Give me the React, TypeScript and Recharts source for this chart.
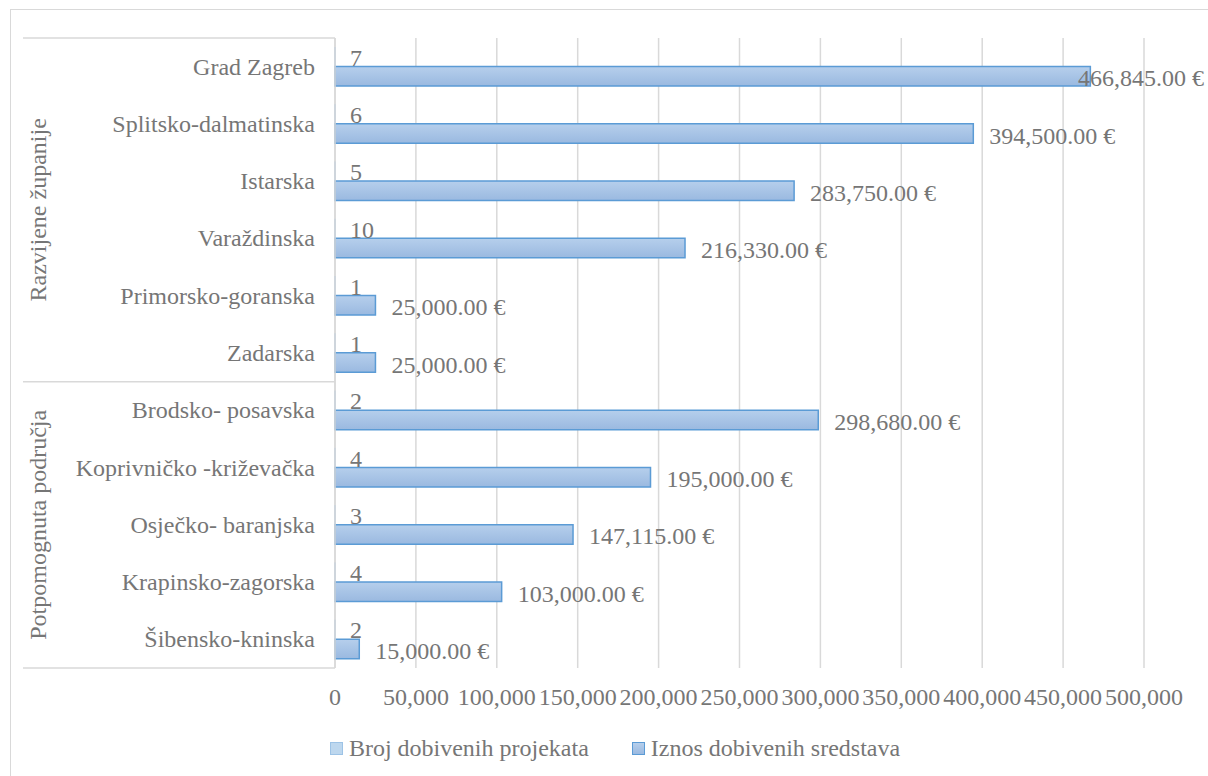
import React from 'react';
import { BarChart, Bar, XAxis, YAxis, CartesianGrid, LabelList, Legend } from 'recharts';

// ---------- data ----------
const categories = [
  'Grad Zagreb',
  'Splitsko-dalmatinska',
  'Istarska',
  'Varaždinska',
  'Primorsko-goranska',
  'Zadarska',
  'Brodsko- posavska',
  'Koprivničko -križevačka',
  'Osječko- baranjska',
  'Krapinsko-zagorska',
  'Šibensko-kninska',
];
const groups = [
  'Razvijene županije',
  'Razvijene županije',
  'Razvijene županije',
  'Razvijene županije',
  'Razvijene županije',
  'Razvijene županije',
  'Potpomognuta područja',
  'Potpomognuta područja',
  'Potpomognuta područja',
  'Potpomognuta područja',
  'Potpomognuta područja',
];
const projectCounts = [7, 6, 5, 10, 1, 1, 2, 4, 3, 4, 2];
const amounts = [466845, 394500, 283750, 216330, 25000, 25000, 298680, 195000, 147115, 103000, 15000];
const xTicks = [0, 50000, 100000, 150000, 200000, 250000, 300000, 350000, 400000, 450000, 500000];
const seriesNames = ['Broj dobivenih projekata', 'Iznos dobivenih sredstava'];

const data = categories.map((name, i) => ({
  name,
  group: groups[i],
  count: projectCounts[i],
  amount: amounts[i],
}));

// ---------- layout / style ----------
const W = 1208;
const H = 776;
const M = { top: 38, right: 64, bottom: 8, left: 23 };
const Y_AXIS_W = 312;
const X_AXIS_H = 60;
const LEGEND_H = 40;
const PLOT_H = H - M.top - M.bottom - X_AXIS_H - LEGEND_H;
const BAND = PLOT_H / categories.length;
const GROUP_X = 38;
const LABEL_LIMIT = 1204;

const FONT = "'Liberation Serif', 'Times New Roman', serif";
const TEXT = '#767676';
const GRID = '#d9d9d9';
const FS = 24;

let ctx: CanvasRenderingContext2D | null = null;
function textWidth(s: string, size: number) {
  if (!ctx && typeof document !== 'undefined') {
    ctx = document.createElement('canvas').getContext('2d');
  }
  if (!ctx) return s.length * size * 0.5;
  ctx.font = `${size}px "Liberation Serif"`;
  return ctx.measureText(s).width;
}

const fmtEuro = (v: number) =>
  v.toLocaleString('en-US', { minimumFractionDigits: 2, maximumFractionDigits: 2 }) + ' €';
const fmtTick = (v: number) => v.toLocaleString('en-US');

function CategoryTick(props: any) {
  const { x, y, payload, index } = props;
  const i = typeof index === 'number' ? index : payload.index;
  const g = groups[i];
  const isFirst = i === 0 || groups[i - 1] !== g;
  const isLast = i === groups.length - 1;
  const count = groups.filter((v) => v === g).length;
  const top = y - BAND / 2;
  const mid = top + (count * BAND) / 2;
  return (
    <g>
      <text
        x={x}
        y={y}
        textAnchor="end"
        dominantBaseline="central"
        fill={TEXT}
        fontSize={FS}
        fontFamily={FONT}
      >
        {payload.value}
      </text>
      {isFirst && (
        <line x1={M.left} x2={M.left + Y_AXIS_W} y1={top} y2={top} stroke={GRID} strokeWidth={1.5} />
      )}
      {isFirst && (
        <text
          x={GROUP_X}
          y={mid}
          transform={`rotate(-90, ${GROUP_X}, ${mid})`}
          textAnchor="middle"
          dominantBaseline="central"
          fill={TEXT}
          fontSize={FS}
          fontFamily={FONT}
        >
          {g}
        </text>
      )}
      {isLast && (
        <line
          x1={M.left}
          x2={M.left + Y_AXIS_W}
          y1={y + BAND / 2}
          y2={y + BAND / 2}
          stroke={GRID}
          strokeWidth={1.5}
        />
      )}
    </g>
  );
}

function AmountLabel(props: any) {
  const { x, y, width, height, value } = props;
  const s = fmtEuro(Number(value));
  const w = textWidth(s, FS);
  let tx = Number(x) + Number(width) + 16;
  if (tx + w > LABEL_LIMIT) tx = LABEL_LIMIT - w;
  return (
    <text
      x={tx}
      y={Number(y) + Number(height) / 2 + 2}
      dominantBaseline="central"
      fill={TEXT}
      fontSize={FS}
      fontFamily={FONT}
    >
      {s}
    </text>
  );
}

function CountLabel(props: any) {
  const { x, y, width, height, value } = props;
  return (
    <text
      x={Number(x) + Number(width) + 15}
      y={Number(y) + Number(height) / 2 + 1}
      dominantBaseline="central"
      fill={TEXT}
      fontSize={FS}
      fontFamily={FONT}
    >
      {value}
    </text>
  );
}

function LegendContent() {
  const icons = [
    { background: '#bdd7ee', border: '1px solid #9dc3e6' },
    { background: 'linear-gradient(#b6cfec, #9ab9e0)', border: '1.5px solid #5b9bd5' },
  ];
  return (
    <div
      style={{
        display: 'flex',
        justifyContent: 'center',
        alignItems: 'center',
        height: LEGEND_H,
        fontFamily: FONT,
        fontSize: FS,
        color: TEXT,
        whiteSpace: 'nowrap',
      }}
    >
      {seriesNames.map((n, i) => (
        <div key={n} style={{ display: 'flex', alignItems: 'center', marginLeft: i ? 43 : 0 }}>
          <span
            style={{
              display: 'inline-block',
              width: 13,
              height: 13,
              boxSizing: 'border-box',
              marginRight: 6,
              ...icons[i],
            }}
          />
          <span>{n}</span>
        </div>
      ))}
    </div>
  );
}

export default function App() {
  return (
    <div style={{ position: 'fixed', inset: 0, overflow: 'hidden', background: '#fff' }}>
      <div
        style={{
          position: 'absolute',
          left: 10,
          top: 9,
          width: 1400,
          height: 1000,
          border: `1.5px solid ${GRID}`,
        }}
      />
      <div style={{ position: 'absolute', left: 0, top: 0 }}>
        <BarChart
          width={W}
          height={H}
          data={data}
          layout="vertical"
          margin={M}
          barSize={19.5}
          barGap={0}
        >
          <defs>
            <linearGradient id="amtGrad" x1="0" y1="0" x2="0" y2="1">
              <stop offset="0%" stopColor="#b6cfec" />
              <stop offset="100%" stopColor="#9ab9e0" />
            </linearGradient>
          </defs>
          <CartesianGrid horizontal={false} vertical stroke={GRID} strokeWidth={1.5} />
          <XAxis
            type="number"
            domain={[0, 500000]}
            ticks={xTicks}
            interval={0}
            tickFormatter={fmtTick}
            axisLine={false}
            tickLine={false}
            tickMargin={14}
            height={X_AXIS_H}
            tick={{ fill: TEXT, fontSize: FS, fontFamily: FONT }}
          />
          <YAxis
            type="category"
            dataKey="name"
            width={Y_AXIS_W}
            interval={0}
            axisLine={{ stroke: GRID, strokeWidth: 1.5 }}
            tickLine={false}
            tickSize={0}
            tickMargin={20}
            tick={<CategoryTick />}
          />
          <Legend
            verticalAlign="bottom"
            height={LEGEND_H}
            wrapperStyle={{ left: 0, width: 1230 }}
            content={<LegendContent />}
          />
          <Bar
            dataKey="count"
            name={seriesNames[0]}
            fill="#bdd7ee"
            stroke="#9dc3e6"
            strokeWidth={1}
            isAnimationActive={false}
          >
            <LabelList dataKey="count" content={<CountLabel />} />
          </Bar>
          <Bar
            dataKey="amount"
            name={seriesNames[1]}
            fill="url(#amtGrad)"
            stroke="#5b9bd5"
            strokeWidth={1.5}
            isAnimationActive={false}
          >
            <LabelList dataKey="amount" content={<AmountLabel />} />
          </Bar>
        </BarChart>
      </div>
    </div>
  );
}
